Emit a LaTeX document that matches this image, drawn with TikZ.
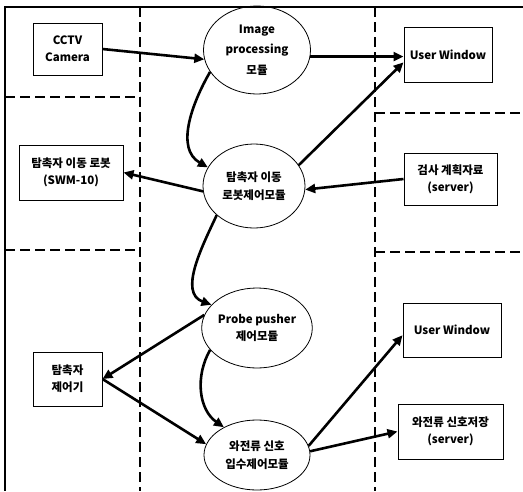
\documentclass[tikz,border=0pt]{standalone}
\usepackage{fontspec}
\setmainfont{Noto Sans CJK KR}
\usetikzlibrary{shapes.geometric, arrows.meta}

\tikzset{
  box/.style={draw, line width=1pt, align=center, inner sep=0pt,
              font=\fontsize{11.5}{17}\selectfont\bfseries},
  module/.style={ellipse, draw, line width=0.8pt, align=center, inner sep=0pt,
                 font=\fontsize{11.5}{17.5}\selectfont\bfseries},
  link/.style={line width=2.6pt, -{Triangle[length=10pt,width=9pt]}},
  zone/.style={line width=1.2pt, dash pattern=on 10pt off 5pt},
  frame/.style={line width=1.8pt}
}

\begin{document}
\begin{tikzpicture}[x=1pt, y=-1pt]
  \useasboundingbox (0,0) rectangle (523,491);

  % outer frame and zone separators
  \draw[frame] (523,7) -- (5,7) -- (5,491);
  \draw[zone] (140,7) -- (140,491);
  \draw[zone] (375,7) -- (375,491);
  \draw[zone] (5,97) -- (140,97);
  \draw[zone] (5,250) -- (140,250);
  \draw[zone] (375,113) -- (523,113);
  \draw[zone] (375,252) -- (523,252);

  % devices and data sources
  \node[box, minimum width=69pt, minimum height=52pt] (cctv) at (67.5,49) {CCTV\\Camera};
  \node[box, minimum width=88pt, minimum height=55pt] (uw1) at (448,54.5) {User Window};
  \node[box, minimum width=104pt, minimum height=55pt] (rb) at (71,172.5) {탐촉자 이동 로봇\\(SWM-10)};
  \node[box, minimum width=93pt, minimum height=52pt] (pl) at (450.5,179) {검사 계획자료\\(server)};
  \node[box, minimum width=69pt, minimum height=54pt] (ct) at (67.5,379) {탐촉자\\제어기};
  \node[box, minimum width=98pt, minimum height=54pt] (uw2) at (452,330) {User Window};
  \node[box, minimum width=105pt, minimum height=55pt] (sv) at (450.5,431.5) {와전류 신호저장\\(server)};

  % software modules
  \node[module, minimum width=107pt, minimum height=88pt,
        font=\fontsize{11.5}{20.5}\selectfont\bfseries] (img) at (257,50) {Image\\processing\\모듈};
  \node[module, minimum width=102pt, minimum height=84pt] (rm) at (254,186) {탐촉자 이동\\로봇제어모듈};
  \node[module, minimum width=106pt, minimum height=80pt] (pp) at (257,328) {Probe pusher\\제어모듈};
  \node[module, minimum width=106pt, minimum height=70pt] (wc) at (257,455) {와전류 신호\\입수제어모듈};

  % data flow
  \draw[link] (cctv.east) -- (img.190);
  \draw[link] (img.-7) -- (img.-7 -| uw1.west);
  \draw[link] (rm.25) -- (uw1.190);
  \draw[link] (img.205) to[out=240, in=150] (rm.158);
  \draw[link] (rm.186) -- (rb.east);
  \draw[link] (pl.west) -- (rm.-4);
  \draw[link] (rm.218) to[out=245, in=160] (pp.153);
  \draw[link] (pp.166) -- (ct.east);
  \draw[link] (ct.east) -- (wc.168);
  \draw[link] (pp.205) to[out=240, in=145] (wc.140);
  \draw[link] (wc.10) -- (uw2.186);
  \draw[link] (wc.4) -- (sv.west);
\end{tikzpicture}
\end{document}
